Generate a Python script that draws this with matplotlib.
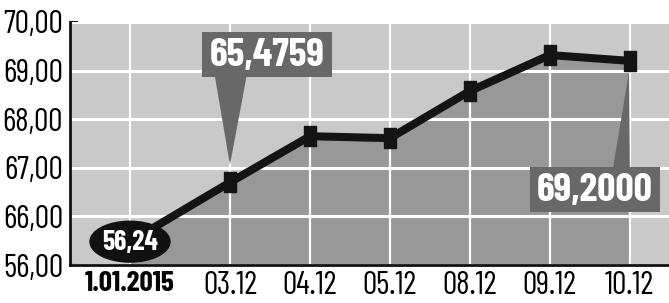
import numpy as np
import matplotlib
matplotlib.use('Agg')
import matplotlib.pyplot as plt
from matplotlib.patches import Ellipse, Rectangle, Polygon
from matplotlib.path import Path

dates = ['1.01.2015', '03.12', '04.12', '05.12', '08.12', '09.12', '10.12']
values = [56.24, 66.70, 67.65, 67.61, 68.58, 69.32, 69.20]
ytick_values = [56, 66, 67, 68, 69, 70]
ytick_labels = ['56,00', '66,00', '67,00', '68,00', '69,00', '70,00']
first_label = '56,24'
callout_left = '65,4759'
callout_right = '69,2000'

plt.rcParams['font.family'] = ['Barlow Condensed', 'Liberation Sans', 'DejaVu Sans']


def to_axis(v):
    # broken axis: everything under 66 sits in the bottom band (65..66)
    v = np.asarray(v, dtype=float)
    return np.where(v >= 66, v, 65 + (v - 56) * 2)


x = np.arange(len(dates), dtype=float)
x[0] -= 0.25
y = to_axis(values)

fig = plt.figure(figsize=(6.69, 3.03), dpi=100)
ax = fig.add_axes([70 / 669, 38 / 303, 599 / 669, 243 / 303])
ax.set_facecolor('#c9c9c9')

ax.set_xlim(-1, 6.49)
ax.set_ylim(65, 70)

# white grid sits on top of the filled area
for xi in x:
    ax.axvline(xi, color='white', lw=1.6, zorder=3)
for t in to_axis(ytick_values):
    ax.axhline(t, color='white', lw=2.2, zorder=3)

ax.fill_between(x, y, 65, color='#989898', lw=0, zorder=2)

rect = Path([(-0.63, -1), (0.63, -1), (0.63, 1), (-0.63, 1), (-0.63, -1)],
            [Path.MOVETO, Path.LINETO, Path.LINETO, Path.LINETO, Path.CLOSEPOLY])
ax.plot(x, y, color='#141414', lw=5.8, zorder=4, solid_joinstyle='miter')
ax.plot(x[1:], y[1:], ls='none', marker=rect, ms=13.7, color='#141414', zorder=5)

# first point: black ellipse
ax.add_patch(Ellipse((x[0], y[0]), 1.0, 0.84, color='#111111', zorder=6))
ax.text(x[0], y[0] - 0.02, first_label, color='white', fontsize=20, fontweight='bold',
        ha='center', va='center', zorder=7)

# callout boxes
box_color = '#686868'
ax.add_patch(Polygon([(x[1] - 0.19, 68.9), (x[1] + 0.21, 68.9), (x[1], y[1] + 0.36)],
                     closed=True, color=box_color, lw=0, zorder=6))
ax.add_patch(Rectangle((0.65, 68.87), 1.625, 0.92, color=box_color, lw=0, zorder=6))
ax.text(1.46, 69.31, callout_left, color='white', fontsize=29, fontweight='bold',
        ha='center', va='center', zorder=7)

ax.add_patch(Polygon([(x[6] - 0.21, 67.0), (x[6], 67.0), (x[6] - 0.01, y[6] - 0.23)],
                     closed=True, color=box_color, lw=0, zorder=6))
ax.add_patch(Rectangle((4.75, 66.09), 1.625, 0.93, color=box_color, lw=0, zorder=6))
ax.text(5.56, 66.53, callout_right, color='white', fontsize=29, fontweight='bold',
        ha='center', va='center', zorder=7)

ax.set_xticks(x)
ax.set_xticklabels(dates, fontsize=23)
ax.get_xticklabels()[0].set_fontweight('bold')
ax.get_xticklabels()[0].set_fontsize(21)
ax.set_yticks(to_axis(ytick_values))
ax.set_yticklabels(ytick_labels, fontsize=23)

ax.tick_params(axis='x', direction='in', length=7, width=1.5, pad=4, color='#111111')
ax.tick_params(axis='y', direction='in', length=6, width=1.5, pad=5, color='#111111')
for s in ['top', 'right']:
    ax.spines[s].set_visible(False)
for s in ['left', 'bottom']:
    ax.spines[s].set_linewidth(2)
    ax.spines[s].set_color('#111111')
    ax.spines[s].set_zorder(8)

fig.savefig('out.png', dpi=100, facecolor='white')
